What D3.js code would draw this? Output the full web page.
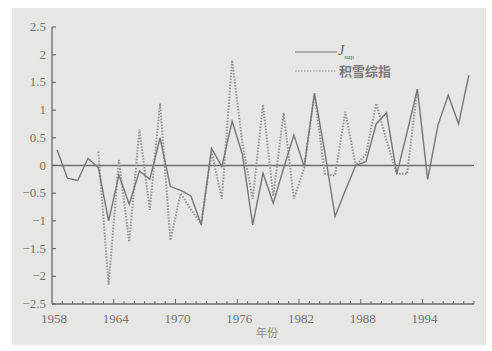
<!DOCTYPE html>
<html>
<head>
<meta charset="utf-8">
<script src="https://cdn.jsdelivr.net/npm/d3@7"></script>
<style>
  body { margin: 0; background: #fff; }
  svg { display: block; }
  .serif { font-family: "Liberation Serif", "Times New Roman", serif; }
  .cjk { font-family: "Noto Sans CJK SC", sans-serif; }
</style>
</head>
<body>
<svg id="chart"></svg>
<script>
// years on the category axis
const years = [1958, 1959, 1960, 1961, 1962, 1963, 1964, 1965, 1966, 1967,
               1968, 1969, 1970, 1971, 1972, 1973, 1974, 1975, 1976, 1977,
               1978, 1979, 1980, 1981, 1982, 1983, 1984, 1985, 1986, 1987,
               1988, 1989, 1990, 1991, 1992, 1993, 1994, 1995, 1996, 1997, 1998];

// J_sup series (solid)
const jsup = [0.28, -0.23, -0.27, 0.13, -0.04, -1.0, -0.17, -0.7, -0.1, -0.25,
              0.5, -0.38, -0.45, -0.55, -1.07, 0.31, -0.02, 0.8, 0.2, -1.07,
              -0.14, -0.68, -0.05, 0.55, -0.02, 1.3, 0.25, -0.92, -0.45, 0.0,
              0.07, 0.75, 0.95, -0.15, 0.6, 1.38, -0.25, 0.73, 1.27, 0.75, 1.63];

// 积雪综指 series (dotted)
const snow = [null, null, null, null, 0.25, -2.15, 0.1, -1.38, 0.65, -0.8,
              1.12, -1.35, -0.5, -0.8, -1.05, 0.25, -0.6, 1.9, 0.4, -0.6,
              1.1, -0.55, 0.95, -0.6, -0.05, 1.3, -0.15, -0.18, 0.97, 0.0,
              0.2, 1.12, 0.45, -0.15, -0.15, 1.38, null, null, null, null, null];

const yTicks = [2.5, 2, 1.5, 1, 0.5, 0, -0.5, -1, -1.5, -2, -2.5];
const xLabels = [1958, 1964, 1970, 1976, 1982, 1988, 1994];

const width = 492, height = 351;
const svg = d3.select("#chart").attr("width", width).attr("height", height);

// scanned page background
svg.append("rect")
    .attr("x", 12).attr("y", 8)
    .attr("width", 474).attr("height", 337)
    .attr("fill", "#e6e6e4");

const x = d3.scaleLinear().domain([1958, 1999]).range([52, 474]);
const y = d3.scaleLinear().domain([-2.5, 2.5]).range([304, 27]);

const ink = "#6a6a6a";

// y axis
svg.append("line")
    .attr("x1", x(1958)).attr("x2", x(1958))
    .attr("y1", y(2.5)).attr("y2", y(-2.5))
    .attr("stroke", ink).attr("stroke-width", 1.3);

svg.selectAll(".ytick").data(yTicks).enter().append("line")
    .attr("x1", x(1958)).attr("x2", x(1958) + 4)
    .attr("y1", d => y(d)).attr("y2", d => y(d))
    .attr("stroke", ink).attr("stroke-width", 1.2);

svg.selectAll(".ylab").data(yTicks).enter().append("text")
    .attr("class", "serif")
    .attr("x", 46)
    .attr("y", d => y(d) + 4)
    .attr("text-anchor", "end")
    .attr("font-size", 13)
    .attr("fill", "#747474")
    .text(d => d < 0 ? "\u2212" + Math.abs(d) : d);

// x axis
svg.append("line")
    .attr("x1", x(1958)).attr("x2", x(1999))
    .attr("y1", y(-2.5)).attr("y2", y(-2.5))
    .attr("stroke", ink).attr("stroke-width", 1.3);

svg.selectAll(".xtick").data(d3.range(1959, 2000)).enter().append("line")
    .attr("x1", d => x(d)).attr("x2", d => x(d))
    .attr("y1", y(-2.5))
    .attr("y2", d => y(-2.5) - (xLabels.includes(d) ? 5 : 3))
    .attr("stroke", ink).attr("stroke-width", 1);

svg.selectAll(".xlab").data(xLabels).enter().append("text")
    .attr("class", "serif")
    .attr("x", d => x(d) + 2)
    .attr("y", 323)
    .attr("text-anchor", "middle")
    .attr("font-size", 13)
    .attr("fill", "#747474")
    .text(d => d);

svg.append("text")
    .attr("class", "cjk")
    .attr("x", 267).attr("y", 337)
    .attr("text-anchor", "middle")
    .attr("font-size", 11)
    .attr("fill", "#8a8a8a")
    .text("年份");

// zero line
svg.append("line")
    .attr("x1", x(1958)).attr("x2", x(1999))
    .attr("y1", y(0)).attr("y2", y(0))
    .attr("stroke", "#6e6e6e").attr("stroke-width", 1.6);

const line = d3.line()
    .defined(d => d.v !== null)
    .x(d => x(d.year + 0.5))
    .y(d => y(d.v));

const snowData = years.map((yr, i) => ({ year: yr, v: snow[i] }));
const jsupData = years.map((yr, i) => ({ year: yr, v: jsup[i] }));

svg.append("path")
    .attr("d", line(snowData))
    .attr("fill", "none")
    .attr("stroke", "#929292")
    .attr("stroke-width", 2)
    .attr("stroke-dasharray", "1.5,1.5");

svg.append("path")
    .attr("d", line(jsupData))
    .attr("fill", "none")
    .attr("stroke", "#767676")
    .attr("stroke-width", 1.4);

// legend
svg.append("line")
    .attr("x1", 295).attr("x2", 337).attr("y1", 52).attr("y2", 52)
    .attr("stroke", "#767676").attr("stroke-width", 1.2);

const jl = svg.append("text")
    .attr("class", "serif")
    .attr("x", 338).attr("y", 55)
    .attr("font-style", "italic")
    .attr("font-size", 14)
    .attr("fill", "#5e5e5e");
jl.append("tspan").text("J");
jl.append("tspan").attr("dy", 4).attr("font-size", 7).attr("font-style", "normal").text("sup");

svg.append("line")
    .attr("x1", 295).attr("x2", 337).attr("y1", 71).attr("y2", 71)
    .attr("stroke", "#929292").attr("stroke-width", 1.2)
    .attr("stroke-dasharray", "1.5,1.5");

svg.append("text")
    .attr("class", "cjk")
    .attr("x", 339).attr("y", 76)
    .attr("font-size", 13)
    .attr("font-weight", "bold")
    .attr("fill", "#7a7a7a")
    .text("积雪综指");
</script>
</body>
</html>
